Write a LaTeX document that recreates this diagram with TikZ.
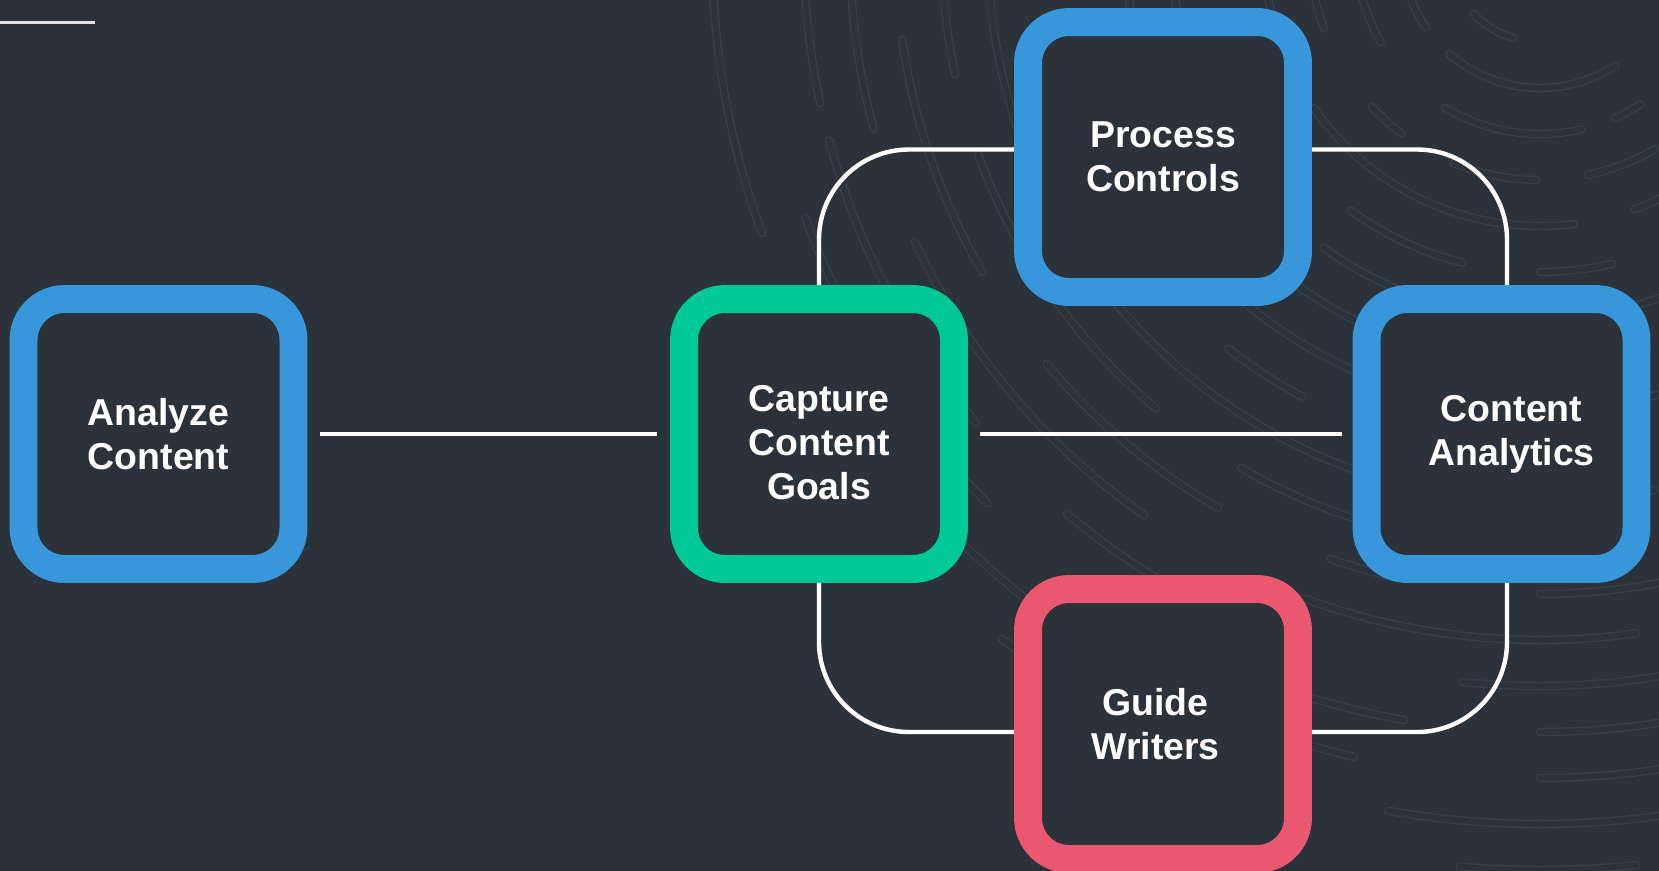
\documentclass[tikz,border=0pt]{standalone}
\usepackage{fontspec}
\setmainfont{Liberation Sans}
\usetikzlibrary{positioning, backgrounds}

\definecolor{bg}{HTML}{2B3239}
\definecolor{ringline}{HTML}{384047}
\definecolor{boxblue}{HTML}{3897DB}
\definecolor{boxgreen}{HTML}{00C896}
\definecolor{boxred}{HTML}{EA5870}
\definecolor{rule}{HTML}{E2E2E2}

\begin{document}
\begin{tikzpicture}
% style
	[x=0.02cm, y=-0.02cm,
	box/.style={rectangle, rounded corners=0.82cm, line width=15.9pt, minimum width=5.4cm, minimum height=5.4cm, fill=bg, text=white, align=center, font=\bfseries\fontsize{21.3}{25}\selectfont},
	link/.style={draw=white, line width=2.5pt},
	ring/.style={draw=ringline, line width=0.8pt, double=bg, double distance=3.2pt, line cap=round}]

	\useasboundingbox (0,0) rectangle (1659,870);

	% steps
	\node [box, draw=boxgreen] (capture) at (819,434) {\rule{0pt}{24.5pt}Capture\\Content\\Goals};
	\node [box, draw=boxblue] (analyze) at (158.5,434) {Analyze\\Content};
	\node [box, draw=boxblue] (process) at (1163,157) {Process\\Controls};
	\node [box, draw=boxblue] (analytics) at (1501.5,434) {\hspace*{0.4cm}Content\\\hspace*{0.4cm}Analytics};
	\node [box, draw=boxred] (guide) at (1163,724) {Guide\hspace*{0.3cm}\\Writers\hspace*{0.3cm}};

	% links
	\path[link, shorten <=0.26cm, shorten >=0.26cm] (analyze) edge (capture);
	\path[link, shorten <=0.24cm, shorten >=0.22cm] (capture) edge (analytics);

	\begin{pgfonlayer}{background}
	% background
	\fill[bg] (-5,-5) rectangle (1665,880);
	\draw[rule, line width=1.2pt] (0,22.5) -- (95,22.5);

	% rings
	\begin{scope}
	\clip (0,0) rectangle (1659,870);
	\foreach \r/\a/\b in {92/107/136,
	                      138/57/131, 138/146/160,
	                      184/57/66, 184/77/121, 184/150/165,
	                      230/60/78, 230/91/112, 230/127/137, 230/160/172,
	                      276/45/70, 276/83/145, 276/155/170,
	                      322/77/90, 322/104/126, 322/140/165,
	                      368/60/80, 368/95/126, 368/135/150, 368/160/172,
	                      414/75/100, 414/115/135, 414/150/175,
	                      460/70/85, 460/100/140, 460/155/172,
	                      506/85/105, 506/118/128, 506/140/168,
	                      552/78/95, 552/105/150, 552/160/176,
	                      598/82/92, 598/100/120, 598/130/160, 598/168/177,
	                      644/79/90, 644/103/109, 644/120/140, 644/150/172,
	                      690/82/110, 690/125/155, 690/165/178,
	                      736/80/96, 736/110/130, 736/140/165, 736/168/176,
	                      782/81/90, 782/100/125, 782/135/160,
	                      828/80/90, 828/103/106, 828/120/150, 828/160/177,
	                      874/82/100, 874/112/128,
	                      920/84/95, 920/105/122,
	                      966/88/100}
	  \draw[ring] plot[domain=\a:\b, samples=40, smooth] ({1540+\r*cos(\x)}, {-50+\r*sin(\x)});
	\end{scope}

	% loop behind the steps
	\path[link, rounded corners=1.8cm] (capture.center) |- ([yshift=0.15cm]process.center)
	                                     -| ([xshift=0.11cm]analytics.center)
	                                     |- ([yshift=-0.16cm]guide.center)
	                                     -| (capture.center);
	\end{pgfonlayer}
\end{tikzpicture}
\end{document}
